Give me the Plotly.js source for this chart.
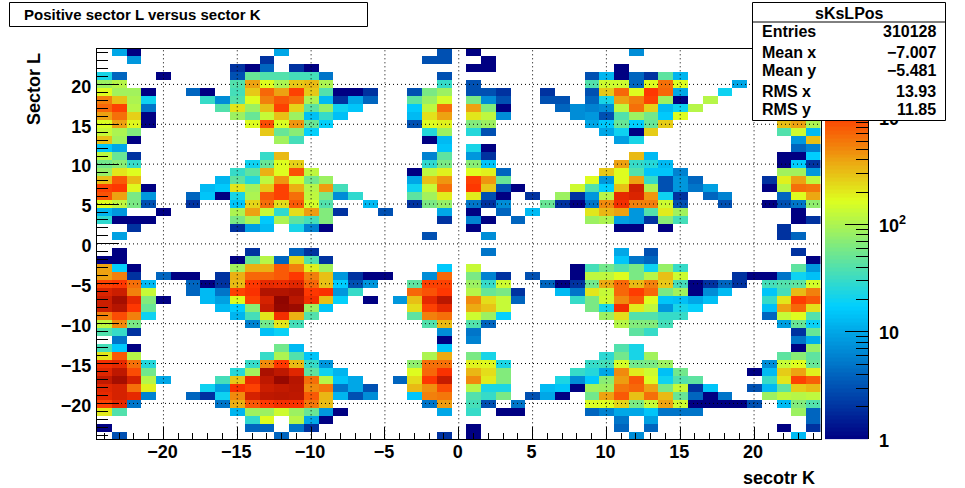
<!DOCTYPE html>
<html>
<head>
<meta charset="utf-8">
<script src="https://cdn.plot.ly/plotly-3.0.1.min.js"></script>
<style>html,body{margin:0;padding:0;background:#fff}#c{width:965px;height:488px}</style>
</head>
<body>
<div id="c"></div>
<script>
// Each row: flat pairs of bin index (0 = sector K -24) and count.
const L24=[1,10,2,1,12,10,23,3,25,1,36,7];
const L23=[2,8,11,2,22,3,23,3,26,1];
const L22=[9,2,10,1,11,4,13,2,14,1,25,1,26,1,35,1];
const L21=[0,22,1,4,4,1,9,3,10,50,11,40,12,40,13,35,14,35,15,5,23,3,33,3,34,12,35,1,36,4,37,2,38,45,39,12];
const L20=[0,85,1,110,9,40,10,400,11,170,12,100,13,280,14,320,15,100,23,30,25,3,33,40,34,140,35,140,36,4,37,170,38,650,39,170,43,10];
const L19=[0,170,1,90,2,90,3,1,6,4,7,1,9,35,10,280,11,700,12,400,13,1000,14,280,15,40,16,1,17,1,18,2,21,3,22,60,23,85,25,3,26,3,27,2,30,2,33,3,34,280,35,700,36,170,37,1100,38,700,39,10,42,20];
const L18=[0,550,1,300,2,100,3,20,7,30,8,7,9,40,10,170,11,550,12,800,13,650,14,100,15,13,16,2,17,10,18,4,21,45,22,85,23,150,25,60,26,7,27,3,30,3,31,3,33,4,34,22,35,400,36,550,37,1000,38,85,39,1,41,110];
const L17=[0,700,1,1000,2,110,3,5,8,40,9,210,10,85,11,300,12,1000,13,250,14,45,15,80,16,20,17,15,21,16,22,120,23,650,25,400,26,65,27,1,31,4,32,7,33,6,34,7,35,120,36,650,37,260,38,13,39,20,40,110];
const L16=[0,400,1,650,2,260,3,1,9,85,10,50,11,130,12,300,13,85,14,14,15,30,16,14,21,13,22,220,23,400,25,210,26,120,27,7,32,7,33,8,34,3,35,40,36,85,37,55,38,16,39,170];
const L15=[0,160,1,400,2,180,3,1,10,170,11,900,12,160,13,450,14,50,15,18,21,3,22,170,23,190,25,65,26,85,33,10,34,16,35,50,36,17,37,50,38,270,46,300,47,400,48,100];
const L14=[0,130,1,100,2,65,11,280,12,50,13,70,14,18,22,25,23,85,25,25,26,3,34,10,35,20,36,1,37,270,46,40,47,140,48,13];
const L13=[0,300,1,90,2,1,12,90,13,35,22,1,23,13,35,9,36,22,47,8,48,300];
const L12=[0,15,1,10,23,15,25,22,26,1,47,4,48,6];
const L11=[0,120,1,50,2,2,11,30,12,320,22,6,23,45,25,8,26,2,36,320,37,13,46,1,47,1,48,17];
const L10=[0,55,1,70,2,30,10,20,11,50,12,170,13,260,22,28,23,60,25,70,26,15,35,400,36,30,37,25,38,13,46,1,47,17,48,2];
const L9=[0,80,1,210,2,170,9,30,10,45,11,350,12,170,13,850,14,120,21,1,22,120,23,190,25,170,26,190,27,4,34,280,35,170,36,40,37,15,38,15,39,6,46,90,47,90,48,8];
const L8=[0,300,1,800,2,320,8,12,9,45,10,25,11,120,12,450,13,150,14,55,15,85,21,10,22,300,23,450,25,1000,26,450,27,50,33,170,34,8,35,170,36,400,37,30,38,3,39,8,40,4,45,2,46,190,47,400,48,120];
const L7=[0,1000,1,1100,2,180,3,1,7,13,8,16,9,210,10,90,11,280,12,1000,13,350,14,110,15,420,16,35,21,20,22,130,23,650,25,1100,26,280,27,3,28,1,32,140,33,40,34,17,35,300,36,1900,37,100,38,3,39,8,40,5,41,9,45,1,46,110,47,650,48,600];
const L6=[0,850,1,400,2,60,3,8,6,4,7,15,8,1,9,22,10,100,11,800,12,1000,13,650,14,120,15,60,16,7,17,28,21,45,22,90,23,200,25,200,26,3,27,1,29,2,31,85,32,2,33,8,34,110,35,1500,36,1700,37,450,38,20,39,2,41,4,42,6,46,4,47,170,48,380];
const L5=[0,170,1,120,2,60,3,3,6,2,9,15,10,250,11,650,12,230,13,800,14,150,15,40,18,13,21,2,22,60,23,80,25,5,26,2,27,7,30,50,31,2,32,1,33,5,34,500,35,1300,36,550,37,550,38,140,39,3,42,3,45,1,46,3,47,5,48,75];
const L4=[0,12,1,8,4,1,9,100,10,400,11,130,12,28,13,230,14,420,15,65,16,2,19,3,23,10,25,1,27,4,29,13,33,210,34,330,35,400,36,8,37,40,38,200,39,90,47,1];
const L3=[0,28,1,1,2,1,3,1,9,60,10,100,11,16,12,100,13,45,14,35,15,65,23,2,25,6,26,1,28,4,33,85,34,100,35,9,36,8,37,2,38,70,39,35,47,1,48,2];
const L2=[2,2,9,2,10,9,11,13,13,22,14,6,15,1,25,1,35,1,36,1,38,1,46,2];
const L1=[1,9,22,3,26,7,46,2,47,4];
const L0=[];
const Lm1=[1,1,10,2,13,4,14,2,26,5,35,10,37,3,47,2];
const Lm2=[0,1,1,1,9,1,10,50,11,110,12,4,13,240,14,40,15,2,35,15,36,5,37,4,48,1];
const Lm3=[0,400,1,18,2,1,9,90,10,350,11,350,12,800,13,550,14,190,15,90,23,16,25,130,32,1,33,35,34,55,35,40,36,60,37,20,38,80,39,30,47,45,48,8];
const Lm4=[0,400,1,550,2,2,4,4,5,1,6,1,8,2,9,350,10,700,11,700,12,800,13,1100,14,550,15,300,16,8,17,2,18,1,19,1,22,7,23,700,25,60,26,6,27,2,29,3,32,1,33,120,34,120,35,170,36,60,37,110,38,300,39,140,43,2,44,1,45,1,46,5,47,20,48,14];
const Lm5=[0,1000,1,1100,2,650,3,13,6,4,7,1,8,2,9,320,10,1100,11,1500,12,1400,13,1600,14,700,15,300,16,17,17,3,18,8,21,45,22,1000,23,1000,25,85,26,30,27,140,30,4,31,1,32,2,33,55,34,370,35,700,36,320,37,550,38,280,39,35,40,1,41,2,42,4,43,2,45,35,46,40,47,45,48,150];
const Lm6=[0,1700,1,2000,2,550,3,130,6,4,7,13,8,5,9,1000,10,1200,11,2600,12,2600,13,2800,14,1100,15,1200,16,8,17,30,21,700,22,850,23,1100,25,110,26,50,27,60,28,2,31,13,32,5,33,210,34,130,35,700,36,1050,37,700,38,60,39,90,40,1,41,7,42,13,45,15,46,35,47,320,48,550];
const Lm7=[0,2000,1,3000,2,1500,3,65,4,1,7,13,8,9,9,170,10,1000,11,1800,12,3800,13,2400,14,1300,15,300,16,18,18,1,20,8,21,300,22,1500,23,2400,25,500,26,230,27,130,28,4,32,30,33,60,34,140,35,500,36,800,37,170,38,15,39,14,40,10,41,14,45,30,46,210,47,1050,48,800];
const Lm8=[0,2000,1,2500,2,1100,3,50,8,13,9,17,10,70,11,2100,12,3600,13,3300,14,85,15,15,21,230,22,1000,23,1500,25,370,26,290,27,130,33,60,34,22,35,1300,36,200,37,120,38,8,39,22,40,18,45,14,46,400,47,700,48,220];
const Lm9=[0,550,1,900,2,550,3,20,9,12,10,35,11,210,12,1300,13,350,14,40,21,45,22,550,23,650,25,140,26,85,27,18,34,85,35,230,36,40,37,40,38,30,39,30,45,4,46,130,47,170,48,40];
const Lm10=[0,120,1,500,2,60,10,6,11,55,12,210,13,35,22,40,23,320,25,40,26,4,35,110,36,65,37,65,38,35,46,9,47,50,48,19];
const Lm11=[0,40,1,30,2,2,11,14,12,19,23,7,25,5,36,45,37,30,47,2,48,50];
const Lm12=[1,5,23,1,25,6,47,5,48,11];
const Lm13=[0,35,1,16,2,1,12,55,13,13,23,15,35,40,36,22,47,1,48,80];
const Lm14=[0,210,1,800,2,110,11,30,12,100,13,40,14,15,22,100,23,370,25,60,26,22,34,27,35,55,36,22,37,90,46,45,47,70,48,45];
const Lm15=[0,1300,1,1500,2,650,3,25,10,30,11,500,12,1100,13,320,14,30,15,8,21,75,22,650,23,650,25,190,26,180,27,23,33,30,34,35,35,150,36,55,37,60,38,85,45,7,46,130,47,170,48,50];
const Lm16=[0,1600,1,2300,2,900,3,55,9,25,10,90,11,2800,12,2300,13,1600,14,45,15,20,16,12,21,170,22,700,23,1200,25,330,26,230,27,65,32,30,33,25,34,10,35,500,36,200,37,140,38,14,39,55,44,1,45,13,46,270,47,400,48,190];
const Lm17=[0,2200,1,3000,2,1800,3,110,4,10,8,35,9,280,10,1400,11,2300,12,3500,13,2500,14,650,15,110,16,15,17,10,20,4,21,230,22,1100,23,2100,25,500,26,200,27,65,31,23,32,7,33,16,34,70,35,420,36,800,37,160,38,20,39,40,40,45,45,30,46,210,47,1000,48,750];
const Lm18=[0,1600,1,1800,2,650,3,190,7,20,8,9,9,1200,10,1000,11,2000,12,2200,13,2400,14,500,15,600,16,5,17,10,18,3,21,320,22,480,23,900,25,110,26,23,27,23,30,13,31,15,32,1,33,90,34,85,35,600,36,700,37,400,38,60,39,130,40,2,41,15,44,3,45,13,46,45,47,270,48,320];
const Lm19=[0,1500,1,1800,2,1500,3,6,6,4,7,2,8,20,9,500,10,1800,11,2300,12,2400,13,2300,14,800,15,330,16,12,17,3,18,7,21,15,22,550,23,600,25,40,26,30,27,60,29,3,30,10,31,1,33,55,34,400,35,800,36,300,37,650,38,320,39,50,40,4,41,1,42,5,45,85,46,120,47,110,48,120];
const Lm20=[0,1000,1,1500,2,5,8,5,9,350,10,800,11,1100,12,1300,13,1200,14,600,15,310,22,5,23,420,25,35,26,3,28,5,33,160,34,170,35,250,36,60,37,130,38,400,39,140,40,1,41,1,42,1,43,1,44,3,46,13,47,65,48,40];
const Lm21=[0,200,1,40,9,12,10,85,11,85,12,140,13,85,14,50,15,8,16,1,23,10,25,30,27,1,28,1,33,4,34,6,35,10,36,10,37,15,38,5,39,5,40,5,47,85,48,4];
const Lm22=[10,28,11,170,13,110,14,10,15,1,35,5,37,9,48,4];
const Lm23=[0,1,10,4,11,4,13,5,14,2,25,1,35,4,37,4,46,1,48,2];
const Lm24=[1,3,12,4,23,2,25,1,36,7,47,13];

const sectorRows=[L24,L23,L22,L21,L20,L19,L18,L17,L16,L15,L14,L13,L12,L11,L10,L9,L8,L7,L6,L5,L4,L3,L2,L1,L0,
  Lm1,Lm2,Lm3,Lm4,Lm5,Lm6,Lm7,Lm8,Lm9,Lm10,Lm11,Lm12,Lm13,Lm14,Lm15,Lm16,Lm17,Lm18,Lm19,Lm20,Lm21,Lm22,Lm23,Lm24];
const axisTicks=[-20,-15,-10,-5,0,5,10,15,20];
const colorTicks=[1,10,100,1000];
const colorTickText=['1','10','10<sup>2</sup>','10<sup>3</sup>'];
const colorMinor=[2,3,4,5,6,7,8,9,20,30,40,50,60,70,80,90,200,300,400,500,600,700,800,900,2000,3000,4000];
const statLabels=['Entries','Mean x','Mean y','RMS x','RMS y'];
const statValues=['310128','\u22127.007','\u22125.481','13.93','11.85'];

const W=965,H=488,ZTOP=3.64,FONT='"Liberation Sans", Arial, sans-serif';
const px=x=>x/W, py=y=>1-y/H;
const kVals=[],lVals=[];
for(let i=0;i<49;i++){kVals.push(i-24);lVals.push(24-i);}
const z=sectorRows.map(r=>{
  const a=new Array(49).fill(null);
  for(let i=0;i<r.length;i+=2)a[r[i]]=Math.log10(r[i+1]);
  return a;
});
const scale=[[0,'rgb(0,0,130)'],[0.34,'rgb(0,207,255)'],[0.61,'rgb(222,255,31)'],[0.84,'rgb(255,51,0)'],[1,'rgb(130,0,0)']];

// palette strip: 100 contour levels, on its own log axis
const NC=100,stripY=[],stripZ=[];
for(let i=0;i<=NC;i++)stripY.push(Math.pow(10,ZTOP*i/NC));
for(let i=0;i<NC;i++)stripZ.push([ZTOP*(i+0.5)/NC]);

const bold={family:FONT,size:18,color:'#000',weight:700};
const shapes=[];
axisTicks.forEach(v=>{
  shapes.push({type:'line',xref:'x',yref:'y',x0:v,x1:v,y0:-24.5,y1:24.5,layer:'above',line:{color:'#000',width:1,dash:'1px,3px'}});
  shapes.push({type:'line',xref:'x',yref:'y',x0:-24.5,x1:24.5,y0:v,y1:v,layer:'above',line:{color:'#000',width:1,dash:'1px,3px'}});
});
const box=(x0,y0,x1,y1)=>({type:'rect',xref:'paper',yref:'paper',x0:px(x0),x1:px(x1),y0:py(y1),y1:py(y0),layer:'above',fillcolor:'#fff',line:{color:'#000',width:1}});
shapes.push(box(9.5,2.5,367.5,26.5));
shapes.push(box(752.5,2.5,945.5,120.5));
shapes.push({type:'line',xref:'paper',yref:'paper',x0:px(752.5),x1:px(945.5),y0:py(22),y1:py(22),layer:'above',line:{color:'#000',width:1}});

const note=(text,x,y,anchor,size,extra)=>Object.assign({text:text,xref:'paper',yref:'paper',x:px(x),y:py(y),xanchor:anchor,yanchor:'middle',showarrow:false,
  font:{family:FONT,size:size,color:'#000',weight:700}},extra||{});
const ann=[
  note('Positive sector L versus sector K',22,15,'left',15),
  note('sKsLPos',849,14,'center',16),
  note('secotr K',817,478,'right',18),
  note('Sector L',34,127,'center',18,{textangle:-90,yanchor:'bottom'})
];
const rowY=[32,52,71,91,110];
statLabels.forEach((s,i)=>{
  ann.push(note(s,760,rowY[i],'left',16));
  ann.push(note(statValues[i],938,rowY[i],'right',16));
});

const main={
  anchor:'free',range:[-24.5,24.5],tick0:0,dtick:5,ticks:'inside',tickcolor:'#000',
  showline:true,mirror:true,linecolor:'#000',linewidth:1,showgrid:false,zeroline:false,layer:'above traces',tickfont:bold
};
const layout={
  width:W,height:H,margin:{l:0,r:0,t:0,b:0},paper_bgcolor:'#fff',plot_bgcolor:'#fff',showlegend:false,
  xaxis:Object.assign({},main,{anchor:'y',domain:[px(97),px(820.5)],ticklen:12,ticklabelstandoff:-4,ticklabelshift:-1,
    minor:{dtick:1,tick0:0,ticks:'inside',ticklen:6,tickcolor:'#000',showgrid:false}}),
  yaxis:Object.assign({},main,{anchor:'x',domain:[py(439.3),py(48.5)],ticklen:22,ticklabelstandoff:1,ticklabelshift:2,
    minor:{dtick:1,tick0:0,ticks:'inside',ticklen:11,tickcolor:'#000',showgrid:false}}),
  xaxis2:{anchor:'y2',domain:[px(825),px(868.3)],range:[0,1],showticklabels:false,ticks:'',showgrid:false,zeroline:false,showline:false,fixedrange:true},
  yaxis2:{anchor:'x2',side:'right',domain:[py(439.3),py(48.5)],type:'log',range:[0,ZTOP],tickmode:'array',tickvals:colorTicks,ticktext:colorTickText,
    ticks:'inside',ticklen:23,tickcolor:'#000',showline:true,linecolor:'#000',linewidth:1,showgrid:false,zeroline:false,layer:'above traces',tickfont:bold,ticklabelstandoff:6,ticklabelshift:1,
    minor:{tickmode:'array',tickvals:colorMinor,ticks:'inside',ticklen:12,tickcolor:'#000',showgrid:false}},
  shapes:shapes,annotations:ann
};
Plotly.newPlot('c',[
  {type:'heatmap',x:kVals,y:lVals,z:z,colorscale:scale,zmin:0,zmax:ZTOP,showscale:false,hoverongaps:false,xaxis:'x',yaxis:'y'},
  {type:'heatmap',x:[0,1],y:stripY,z:stripZ,colorscale:scale,zmin:0,zmax:ZTOP,showscale:false,xaxis:'x2',yaxis:'y2'}
],layout,{displayModeBar:false,staticPlot:true});
</script>
</body>
</html>
